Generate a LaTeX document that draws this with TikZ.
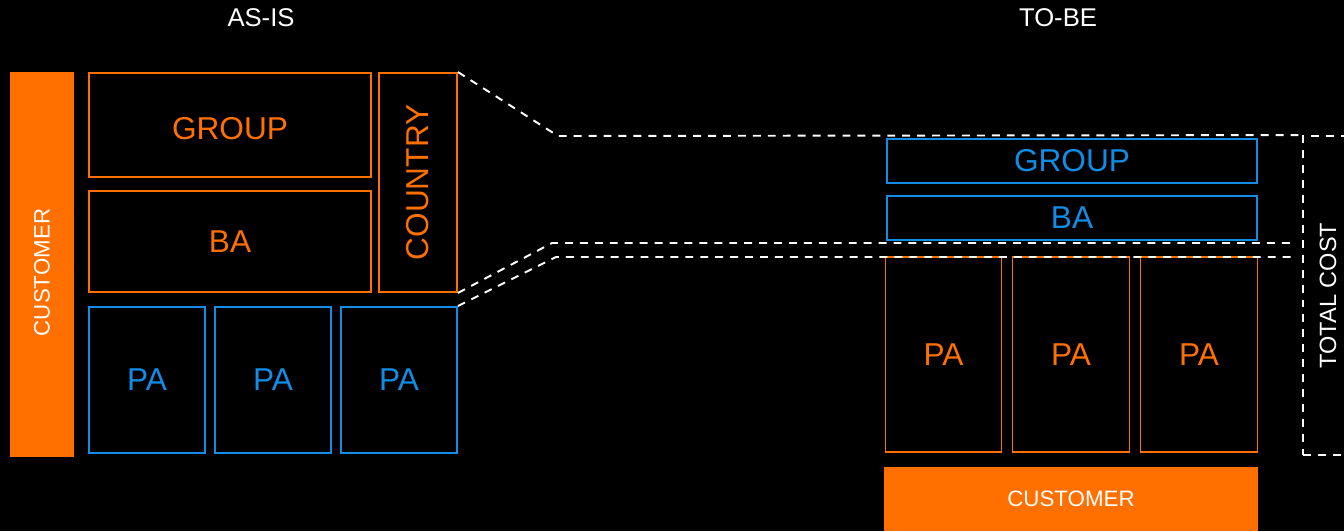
\documentclass[tikz,border=0pt]{standalone}
\usepackage{fontspec}
\setmainfont{Liberation Sans}
\usetikzlibrary{positioning}
\definecolor{tcorange}{RGB}{255,112,0}
\definecolor{tcblue}{RGB}{17,141,230}

\begin{document}
\begin{tikzpicture}[
	x=0.02cm, y=-0.02cm,
	obox/.style={draw=tcorange, line width=1.1pt, text=tcorange, inner sep=0pt, font=\fontsize{18}{20}\selectfont},
	bbox/.style={draw=tcblue, line width=1.1pt, text=tcblue, inner sep=0pt, font=\fontsize{18}{20}\selectfont},
	custbox/.style={fill=tcorange, text=white, inner sep=0pt, font=\fontsize{12.7}{14}\selectfont},
	title/.style={text=white, font=\fontsize{14.6}{16}\selectfont},
	cut/.style={draw=white, line width=1.1pt, dash pattern=on 4.5pt off 4pt}
]
	\useasboundingbox (0,0) rectangle (1344,531);
	\fill[black] (0,0) rectangle (1344,531);

	% as-is
	\node[title] (asis) at (261,18) {AS-IS};
	\node[custbox, minimum width=1.28cm, minimum height=7.7cm] (custL) at (42,264.5) {\rotatebox{90}{CUSTOMER\hspace{0.32cm}}};
	\node[obox, minimum width=5.64cm, minimum height=2.08cm] (groupL) at (230,125) {\raisebox{-0.07cm}[\height][0pt]{GROUP}};
	\node[obox, minimum width=5.64cm, minimum height=2.02cm] (baL) at (230,241.5) {BA};
	\node[obox, minimum width=1.56cm, minimum height=4.38cm] (country) at (418,182.5) {\rotatebox{90}{COUNTRY}};
	\node[bbox, minimum width=2.32cm, minimum height=2.92cm] (paL1) at (147,380) {PA};
	\node[bbox, minimum width=2.32cm, minimum height=2.92cm] (paL2) at (273,380) {PA};
	\node[bbox, minimum width=2.32cm, minimum height=2.92cm] (paL3) at (399,380) {PA};

	% to-be
	\node[title] (tobe) at (1058,18) {TO-BE};
	\node[bbox, minimum width=7.4cm, minimum height=0.88cm] (groupR) at (1072,161) {GROUP};
	\node[bbox, minimum width=7.4cm, minimum height=0.88cm] (baR) at (1072,218) {BA};
	\node[obox, minimum width=2.32cm, minimum height=3.9cm] (paR1) at (943.5,354.5) {PA};
	\node[obox, minimum width=2.34cm, minimum height=3.9cm] (paR2) at (1071,354.5) {PA};
	\node[obox, minimum width=2.34cm, minimum height=3.9cm] (paR3) at (1199,354.5) {PA};
	\node[custbox, minimum width=7.48cm, minimum height=1.28cm] (custR) at (1071,499) {CUSTOMER};
	\node[cut, text=white, inner sep=0pt, minimum width=1cm, minimum height=6.38cm, font=\fontsize{13.4}{15}\selectfont] (total) at (1328,295.5) {\rotatebox{90}{TOTAL COST}};

	% dashed links
	\coordinate (topbend) at (558,136);
	\coordinate (midbend) at (552,243);
	\coordinate (lowbend) at (556,257);
	\coordinate (midend) at (1292,243);
	\coordinate (lowend) at (1292,257);
	\draw[cut] (country.north east) -- (topbend) -- (total.north west);
	\draw[cut] (country.south east) -- (midbend) -- (midend);
	\draw[cut] (paL3.north east) -- (lowbend) -- (lowend);
\end{tikzpicture}
\end{document}
